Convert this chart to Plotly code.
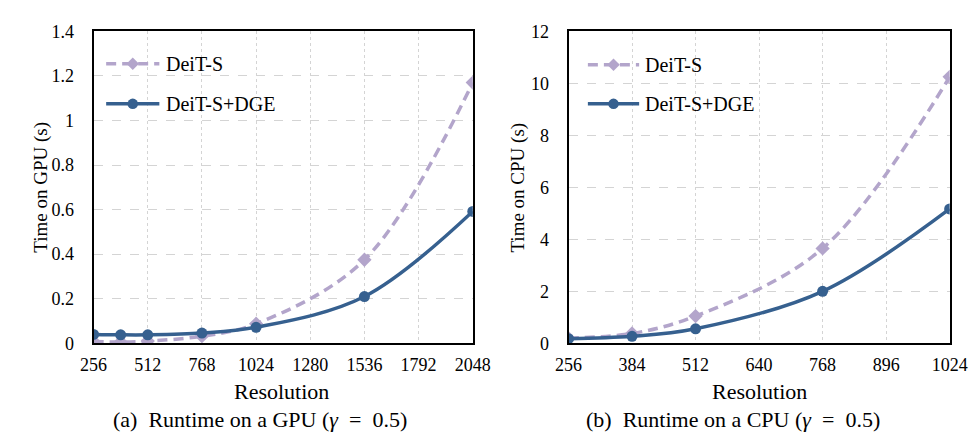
import plotly.graph_objects as go

# ---- data ----
gpu_res = [256, 384, 512, 768, 1024, 1536, 2048]
gpu_deit = [0.008, 0.006, 0.010, 0.032, 0.088, 0.375, 1.17]
gpu_dge = [0.040, 0.038, 0.038, 0.046, 0.072, 0.210, 0.592]

cpu_res = [256, 384, 512, 768, 1024]
cpu_deit = [0.20, 0.38, 1.05, 3.65, 10.25]
cpu_dge = [0.18, 0.27, 0.56, 2.00, 5.17]

gpu_ticks = [256, 512, 768, 1024, 1280, 1536, 1792, 2048]
cpu_ticks = [256, 384, 512, 640, 768, 896, 1024]

names = ["DeiT-S", "DeiT-S+DGE"]
captions = ["(a)  Runtime on a GPU (<i>γ</i>&nbsp; = &nbsp;0.5)",
            "(b)  Runtime on a CPU (<i>γ</i>&nbsp; = &nbsp;0.5)"]
ytitles = ["Time on GPU (s)", "Time on CPU (s)"]

C_DEIT = "#B3A5CB"
C_DGE = "#36608F"
FONT = "Liberation Serif, Times New Roman, serif"
W, H = 979, 435
DASH = "10px,6px"

fig = go.Figure()

def add_pair(x, deit, dge, xa, ya):
    fig.add_trace(go.Scatter(
        x=x, y=deit, name=names[0], mode="lines+markers",
        line=dict(color=C_DEIT, width=3.5, dash=DASH, shape="spline"),
        marker=dict(symbol="diamond", size=11, color=C_DEIT),
        xaxis=xa, yaxis=ya, showlegend=False))
    fig.add_trace(go.Scatter(
        x=x, y=dge, name=names[1], mode="lines+markers",
        line=dict(color=C_DGE, width=3.5, shape="spline"),
        marker=dict(symbol="circle", size=11, color=C_DGE),
        xaxis=xa, yaxis=ya, showlegend=False))

add_pair(gpu_res, gpu_deit, gpu_dge, "x", "y")
add_pair(cpu_res, cpu_deit, cpu_dge, "x2", "y2")

ydom = [(H - 341) / H, (H - 14) / H]
axcommon = dict(showline=True, linecolor="black", linewidth=2, mirror=True,
                ticks="", showgrid=True, gridcolor="#D4D4D4", gridwidth=1,
                zeroline=False, tickfont=dict(family=FONT, size=18, color="black"))

fig.update_layout(
    width=W, height=H, margin=dict(l=0, r=0, t=0, b=0),
    paper_bgcolor="white", plot_bgcolor="white",
    font=dict(family=FONT, color="black"),
    showlegend=False,
    xaxis=dict(domain=[74 / W, 466 / W], range=[256, 2048], tickvals=gpu_ticks,
               griddash="dot", ticklabelstandoff=4, anchor="y", **axcommon),
    yaxis=dict(domain=ydom, range=[0, 1.4], dtick=0.2, tickformat="~g",
               griddash="dash", ticklabelstandoff=14, anchor="x", **axcommon),
    xaxis2=dict(domain=[565 / W, 959 / W], range=[256, 1024], tickvals=cpu_ticks,
                griddash="dot", ticklabelstandoff=4, anchor="y2", **axcommon),
    yaxis2=dict(domain=ydom, range=[0, 12], dtick=2,
                griddash="dash", ticklabelstandoff=14, anchor="x2", **axcommon),
)

def px(x):
    return x / W

def py(y):
    return 1 - y / H

ann = []
shapes = []
# custom legends: (line start x, line end x, text x, row y positions)
legend_pos = [(87, 142, 147, (48, 90)), (585, 638, 642, (49, 90))]
for lx0, lx1, tx, rows in legend_pos:
    for j, (nm, col) in enumerate(zip(names, [C_DEIT, C_DGE])):
        yy = rows[j]
        shapes.append(dict(type="line", xref="paper", yref="paper",
                           x0=px(lx0), x1=px(lx1), y0=py(yy), y1=py(yy),
                           line=dict(color=col, width=3.5,
                                     dash=DASH if j == 0 else "solid")))
        cx = (lx0 + lx1) / 2
        r = 5.5
        if j == 0:
            path = (f"M {px(cx)},{py(yy - r - 1)} L {px(cx + r + 1)},{py(yy)} "
                    f"L {px(cx)},{py(yy + r + 1)} L {px(cx - r - 1)},{py(yy)} Z")
            shapes.append(dict(type="path", xref="paper", yref="paper", path=path,
                               fillcolor=col, line=dict(color=col, width=0)))
        else:
            shapes.append(dict(type="circle", xref="paper", yref="paper",
                               x0=px(cx - r), x1=px(cx + r), y0=py(yy + r), y1=py(yy - r),
                               fillcolor=col, line=dict(color=col, width=0)))
        ann.append(dict(text=nm, x=px(tx), y=py(yy), xref="paper", yref="paper",
                        xanchor="left", yanchor="middle", showarrow=False,
                        font=dict(family=FONT, size=20, color="black")))

for i, (cx, yt, tx) in enumerate([(268, 20, 246), (762, 513, 735)]):
    ann.append(dict(text="Resolution", x=px(cx), y=py(392), xref="paper", yref="paper",
                    xanchor="center", yanchor="middle",
                    showarrow=False, font=dict(family=FONT, size=22, color="black")))
    ann.append(dict(text=ytitles[i], x=px(yt), y=py(177.5), xref="paper", yref="paper",
                    xanchor="center", yanchor="middle",
                    textangle=-90, showarrow=False, font=dict(family=FONT, size=19, color="black")))
    ann.append(dict(text=captions[i], x=px(tx), y=py(421), xref="paper", yref="paper",
                    xanchor="center", yanchor="middle",
                    showarrow=False, font=dict(family=FONT, size=22, color="black")))
fig.update_layout(annotations=ann, shapes=shapes)

fig.write_html("out.html")
